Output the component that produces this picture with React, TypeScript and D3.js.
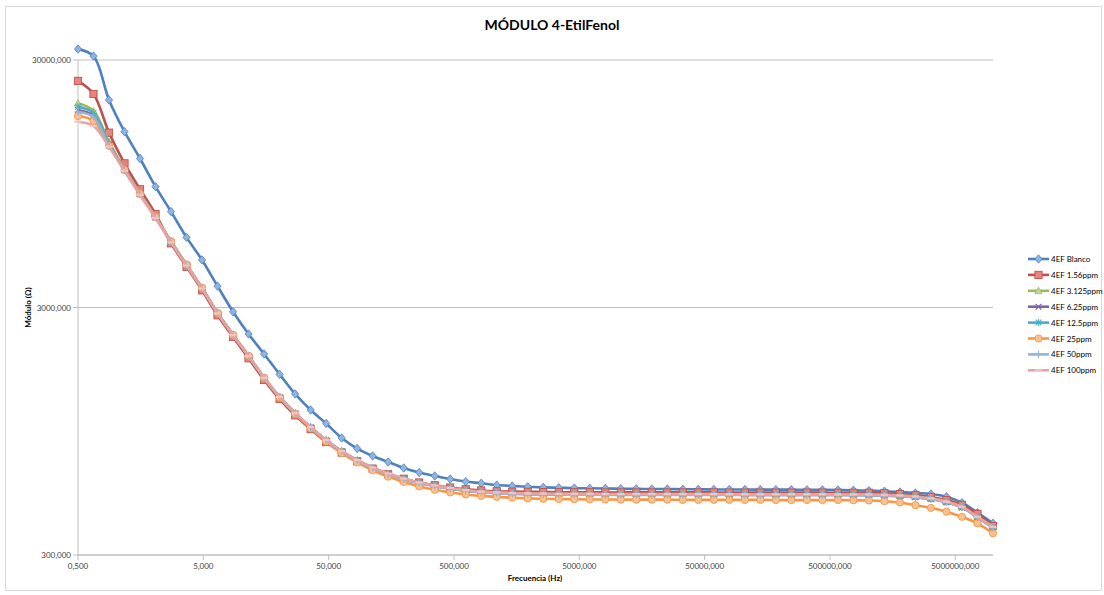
import React from "react";
import * as d3 from "d3";

const frequencies = [
  0.5, 0.6648, 0.8839, 1.1752, 1.5625, 2.0774, 2.7621, 3.6724, 4.8828, 6.492,
  8.632, 11.48, 15.27, 20.31, 27.01, 35.92, 47.75, 63.49, 84.41, 112.2,
  149.2, 198.5, 263.9, 350.9, 466.6, 620.3, 824.7, 1096, 1458, 1939,
  2578, 3428, 4558, 6060, 8058, 10717, 14250, 18945, 25190, 33495,
  44538, 59220, 78740, 104720, 139230, 185120, 246150, 327320, 435220, 578670,
  769440, 1023300, 1360500, 1809000, 2405400, 3198000, 4253000, 5655000, 7519000, 10000000,
];

const blanco = [33200, 31100, 20700, 15400, 12000, 9230, 7320, 5760, 4670, 3660, 2885, 2345, 1947, 1611, 1342, 1156, 1020, 891, 808, 754, 713, 674, 646, 626, 608, 594, 585, 575, 570, 566, 563, 561, 559, 558, 557, 556, 555, 554, 554, 553, 553, 552, 552, 552, 551, 551, 551, 550, 550, 549, 548, 546, 543, 539, 534, 529, 516, 488, 445, 403];
const ppm1_56 = [24700, 21870, 15260, 11470, 9010, 7160, 5450, 4380, 3520, 2790, 2280, 1870, 1530, 1280, 1100, 968, 858, 778, 718, 670, 636, 610, 589, 574, 562, 553, 547, 543, 541, 540, 539, 538, 538, 538, 537, 537, 537, 537, 537, 537, 537, 537, 536, 536, 536, 536, 536, 536, 536, 535, 535, 535, 533, 529, 524, 515, 500, 478, 440, 393];
const ppm3_125 = [20050, 18670, 14000, 10850, 8640, 6960, 5540, 4455, 3595, 2850, 2326, 1913, 1562, 1305, 1123, 986, 874, 789, 725, 676, 639, 610, 588, 572, 559, 548, 541, 536, 533, 531, 530, 529, 529, 529, 528, 528, 528, 528, 528, 528, 528, 528, 528, 527, 527, 527, 527, 527, 527, 527, 526, 526, 524, 521, 516, 507, 492, 469, 428, 389];
const ppm6_25 = [18840, 17820, 13600, 10750, 8600, 6940, 5525, 4445, 3588, 2846, 2324, 1911, 1560, 1303, 1121, 984, 872, 787, 723, 674, 637, 608, 586, 570, 557, 546, 539, 534, 531, 529, 528, 527, 527, 527, 526, 526, 526, 526, 526, 526, 526, 526, 526, 525, 525, 525, 525, 525, 525, 525, 524, 524, 522, 519, 514, 505, 490, 467, 426, 387];
const ppm12_5 = [19430, 18330, 13800, 10800, 8620, 6950, 5530, 4450, 3590, 2848, 2325, 1912, 1561, 1304, 1122, 985, 873, 788, 724, 675, 638, 609, 587, 571, 558, 547, 540, 535, 532, 530, 529, 528, 528, 528, 527, 527, 527, 527, 527, 527, 527, 527, 527, 526, 526, 526, 526, 526, 526, 526, 525, 525, 523, 520, 515, 506, 491, 468, 427, 388];
const ppm25 = [17820, 17010, 13500, 10800, 8650, 6980, 5560, 4480, 3610, 2860, 2330, 1915, 1562, 1300, 1115, 975, 862, 775, 710, 660, 622, 592, 568, 550, 537, 527, 520, 515, 511, 508, 506, 505, 504, 503, 503, 502, 502, 502, 502, 501, 501, 501, 501, 501, 501, 500, 500, 500, 500, 500, 499, 498, 495, 489, 477, 465, 449, 428, 403, 367];
const ppm50 = [18500, 17650, 13500, 10750, 8600, 6940, 5520, 4440, 3585, 2845, 2322, 1910, 1558, 1302, 1120, 983, 871, 786, 722, 673, 636, 607, 585, 569, 556, 545, 538, 533, 530, 528, 527, 526, 526, 526, 525, 525, 525, 525, 525, 525, 525, 525, 525, 524, 524, 524, 524, 524, 524, 524, 523, 523, 521, 518, 513, 505, 490, 467, 425, 386];
const ppm100 = [16900, 16240, 13400, 10700, 8550, 6900, 5500, 4430, 3580, 2840, 2320, 1910, 1560, 1305, 1124, 987, 875, 790, 726, 677, 640, 611, 589, 573, 560, 549, 541, 537, 534, 532, 531, 530, 530, 530, 529, 529, 529, 529, 529, 529, 529, 529, 528, 528, 528, 528, 528, 528, 528, 527, 527, 527, 525, 522, 517, 508, 493, 470, 428, 390];

const seriesNames = ["4EF Blanco", "4EF 1.56ppm", "4EF 3.125ppm", "4EF 6.25ppm", "4EF 12.5ppm", "4EF 25ppm", "4EF 50ppm", "4EF 100ppm"];
const seriesValues = [blanco, ppm1_56, ppm3_125, ppm6_25, ppm12_5, ppm25, ppm50, ppm100];
const seriesColors = ["#4F81BD", "#C0504D", "#9BBB59", "#8064A2", "#4BACC6", "#F79646", "#95B3D7", "#E6A3A1"];
const markerFills = ["#8DB4E2", "#E8847F", "#C3D69B", "#B3A2C7", "#93CDDD", "#FAC090", "#B9CDE5", "#F2C4C2"];
const markerShapes = ["diamond", "square", "triangle", "x", "star", "circle", "plus", "dash"];

const xTicks = [0.5, 5, 50, 500, 5000, 50000, 500000, 5000000];
const xTickLabels = ["0,500", "5,000", "50,000", "500,000", "5000,000", "50000,000", "500000,000", "5000000,000"];
const yTicks = [300, 3000, 30000];
const yTickLabels = ["300,000", "3000,000", "30000,000"];

const FONT = "Lato, 'Open Sans', sans-serif";

function Marker({ shape, x, y, color, fill }: { shape: string; x: number; y: number; color: string; fill: string }) {
  const s = 3.6;
  switch (shape) {
    case "diamond":
      return <path d={`M${x},${y - s - 0.6}L${x + s},${y}L${x},${y + s + 0.6}L${x - s},${y}Z`} fill={fill} stroke={color} strokeWidth={0.8} />;
    case "square":
      return <rect x={x - s} y={y - s} width={2 * s} height={2 * s} fill={fill} stroke={color} strokeWidth={0.9} />;
    case "triangle":
      return <path d={`M${x},${y - s}L${x + s},${y + s * 0.8}L${x - s},${y + s * 0.8}Z`} fill={fill} stroke={color} strokeWidth={0.8} />;
    case "x":
      return <path d={`M${x - s * 0.8},${y - s * 0.8}L${x + s * 0.8},${y + s * 0.8}M${x - s * 0.8},${y + s * 0.8}L${x + s * 0.8},${y - s * 0.8}`} stroke={color} strokeWidth={1.2} />;
    case "star":
      return <path d={`M${x - s * 0.8},${y - s * 0.8}L${x + s * 0.8},${y + s * 0.8}M${x - s * 0.8},${y + s * 0.8}L${x + s * 0.8},${y - s * 0.8}M${x},${y - s}L${x},${y + s}`} stroke={color} strokeWidth={1.1} />;
    case "circle":
      return <circle cx={x} cy={y} r={s} fill={fill} stroke={color} strokeWidth={0.9} />;
    case "plus":
      return <path d={`M${x - s},${y}L${x + s},${y}M${x},${y - s}L${x},${y + s}`} stroke={color} strokeWidth={1.2} />;
    default:
      return <path d={`M${x - s},${y}L${x + s},${y}`} stroke={fill} strokeWidth={2.2} />;
  }
}

export default function App() {
  const W = 1104;
  const H = 595;
  const left = 78;
  const right = 993;
  const top = 60;
  const bottom = 555;

  const x = d3.scaleLog().domain([0.5, 1e7]).range([left, right]);
  const y = d3.scaleLog().domain([300, 30000]).range([bottom, top]);

  const line = d3
    .line<[number, number]>()
    .x((d) => x(d[0]))
    .y((d) => y(d[1]))
    .curve(d3.curveCatmullRom.alpha(0.5));

  const legendX = 1028;
  const legendY0 = 259;
  const legendStep = 15.9;

  return (
    <svg width={W} height={H} style={{ position: "absolute", left: 0, top: 0, background: "#fff" }} fontFamily={FONT}>
      <rect x={0} y={0} width={W} height={H} fill="#fff" />
      <rect x={5.5} y={6.5} width={1096} height={584} fill="none" stroke="#D9D9D9" strokeWidth={1} />
      <text x={552} y={30} textAnchor="middle" fontSize={14} fontWeight="bold" fill="#000">
        MÓDULO 4-EtilFenol
      </text>

      {yTicks.slice(1).map((t) => (
        <line key={t} x1={left} x2={right} y1={y(t)} y2={y(t)} stroke="#BFBFBF" strokeWidth={1} />
      ))}
      <line x1={left} x2={left} y1={top} y2={bottom} stroke="#BFBFBF" strokeWidth={1} />
      <line x1={left} x2={right} y1={bottom} y2={bottom} stroke="#BFBFBF" strokeWidth={1.5} />
      {yTicks.map((t, i) => (
        <g key={t}>
          <line x1={left - 5} x2={left} y1={y(t)} y2={y(t)} stroke="#BFBFBF" />
          <text x={left - 7} y={y(t) + 3} textAnchor="end" fontSize={8} fill="#404040">
            {yTickLabels[i]}
          </text>
        </g>
      ))}
      {xTicks.map((t, i) => (
        <g key={t}>
          <line x1={x(t)} x2={x(t)} y1={bottom} y2={bottom + 5} stroke="#BFBFBF" />
          <text x={x(t)} y={bottom + 14} textAnchor="middle" fontSize={8} fill="#404040">
            {xTickLabels[i]}
          </text>
        </g>
      ))}
      <text x={535} y={581} textAnchor="middle" fontSize={8} fontWeight="bold" fill="#000">
        Frecuencia (Hz)
      </text>
      <text transform={`translate(31,${(top + bottom) / 2}) rotate(-90)`} textAnchor="middle" fontSize={8} fontWeight="bold" fill="#000">
        Módulo (Ω)
      </text>

      {seriesValues.map((vals, si) => {
        const pts: [number, number][] = vals.map((v, i) => [frequencies[i], v]);
        return (
          <g key={si}>
            <path d={line(pts) || ""} fill="none" stroke={seriesColors[si]} strokeWidth={2.6} strokeLinejoin="round" />
            {pts.map((p, i) => (
              <Marker key={i} shape={markerShapes[si]} x={x(p[0])} y={y(p[1])} color={seriesColors[si]} fill={markerFills[si]} />
            ))}
          </g>
        );
      })}

      {seriesNames.map((name, si) => {
        const ly = legendY0 + si * legendStep;
        return (
          <g key={name}>
            <line x1={legendX} x2={legendX + 21} y1={ly} y2={ly} stroke={seriesColors[si]} strokeWidth={2.6} />
            <Marker shape={markerShapes[si]} x={legendX + 10.5} y={ly} color={seriesColors[si]} fill={markerFills[si]} />
            <text x={legendX + 23} y={ly + 3} fontSize={8} fill="#000">
              {name}
            </text>
          </g>
        );
      })}
    </svg>
  );
}
